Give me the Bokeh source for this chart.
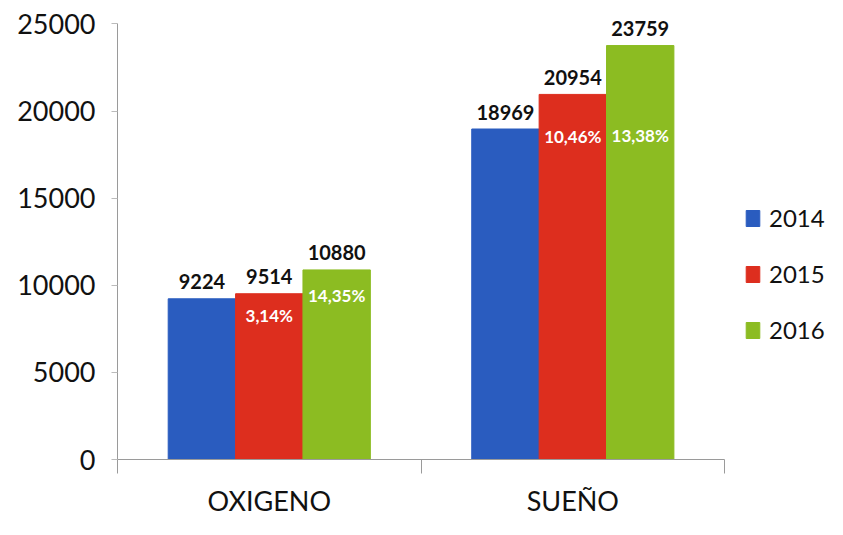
from bokeh.plotting import figure
from bokeh.models import (ColumnDataSource, Range1d, FixedTicker, Legend, LegendItem)
from bokeh.transform import dodge
from bokeh.core.properties import value
from bokeh.embed import file_html
from bokeh.resources import INLINE

# ---- data ----
categories = ["OXIGENO", "SUEÑO"]
years = ["2014", "2015", "2016"]
v2014 = [9224, 18969]
v2015 = [9514, 20954]
v2016 = [10880, 23759]
pct2015 = ["3,14%", "10,46%"]
pct2016 = ["14,35%", "13,38%"]
y_ticks = [0, 5000, 10000, 15000, 20000, 25000]

# ---- style / layout ----
colors = ["#2a5cbf", "#dd2e1e", "#8cbc22"]
FONT = "Lato"
bar_w = 0.222
offsets = [-bar_w, 0.0, bar_w]
pct_drop = {"2015": [22, 42], "2016": [26, 90]}  # pixel drop of % labels below bar tops
X_EXTRA = 0.339   # room to the right of the last category for the legend
Y_TOP = 26000
Y_AXIS_END = 25000

# category slot centres on a numeric axis (one unit per category)
n = len(categories)
centers = [i + 0.5 for i in range(n)]

p = figure(width=827, height=519, x_range=Range1d(0, n + X_EXTRA),
           y_range=Range1d(0, Y_TOP), output_backend="svg", toolbar_location=None,
           min_border_left=117, min_border_right=0, min_border_top=6)
p.outline_line_color = None
p.xgrid.visible = False
p.ygrid.visible = False
p.background_fill_color = "white"
p.border_fill_color = "white"

series = [v2014, v2015, v2016]
renderers = []
for yr, vals, col, off in zip(years, series, colors, offsets):
    src = ColumnDataSource(dict(pos=centers, val=vals, lab=[str(v) for v in vals]))
    r = p.vbar(x=dodge("pos", off), top="val", width=bar_w, source=src,
               fill_color=col, line_color=col)
    renderers.append(r)
    p.text(x=dodge("pos", off), y="val", text="lab", source=src,
           text_align="center", text_baseline="alphabetic", y_offset=-17,
           text_font=value(FONT), text_font_style="bold", text_font_size="20px",
           text_color="#111111")

for yr, pcts, off in [("2015", pct2015, offsets[1]), ("2016", pct2016, offsets[2])]:
    vals = v2015 if yr == "2015" else v2016
    src = ColumnDataSource(dict(pos=centers, val=vals, lab=pcts, dy=pct_drop[yr]))
    p.text(x=dodge("pos", off), y="val", text="lab", source=src,
           text_align="center", text_baseline="middle", y_offset="dy",
           text_font=value(FONT), text_font_style="bold", text_font_size="17px",
           text_color="white")

# y axis
ya = p.yaxis[0]
ya.ticker = FixedTicker(ticks=y_ticks)
ya.bounds = (0, Y_AXIS_END)
ya.axis_line_color = "#9a9a9a"
ya.major_tick_line_color = "#bbbbbb"
ya.major_tick_out = 6
ya.major_tick_in = 0
ya.minor_tick_line_color = None
ya.major_label_standoff = 16
ya.major_label_text_font = FONT
ya.major_label_text_font_size = "27px"
ya.major_label_text_color = "#111111"

# x axis: category labels at slot centres, boundary ticks between slots
xa = p.xaxis[0]
xa.bounds = (0, n)
xa.ticker = FixedTicker(ticks=centers, minor_ticks=list(range(n + 1)))
xa.major_label_overrides = {c: name for c, name in zip(centers, categories)}
xa.axis_line_color = "#9a9a9a"
xa.major_tick_line_color = None
xa.major_tick_out = 0
xa.major_tick_in = 0
xa.minor_tick_line_color = "#9a9a9a"
xa.minor_tick_out = 14
xa.minor_tick_in = 0
xa.major_label_standoff = 10
xa.major_label_text_font = FONT
xa.major_label_text_font_size = "27px"
xa.major_label_text_color = "#111111"

legend = Legend(items=[LegendItem(label=y, renderers=[r]) for y, r in zip(years, renderers)],
                location=(627, 115), orientation="vertical")
legend.border_line_color = None
legend.background_fill_alpha = 0
legend.glyph_width = 17
legend.glyph_height = 20
legend.label_standoff = 8
legend.spacing = 27
legend.padding = 0
legend.margin = 0
legend.label_text_font = FONT
legend.label_text_font_size = "24px"
legend.label_text_color = "#111111"
p.add_layout(legend, "center")

open("out.html", "w").write(file_html(p, INLINE))
